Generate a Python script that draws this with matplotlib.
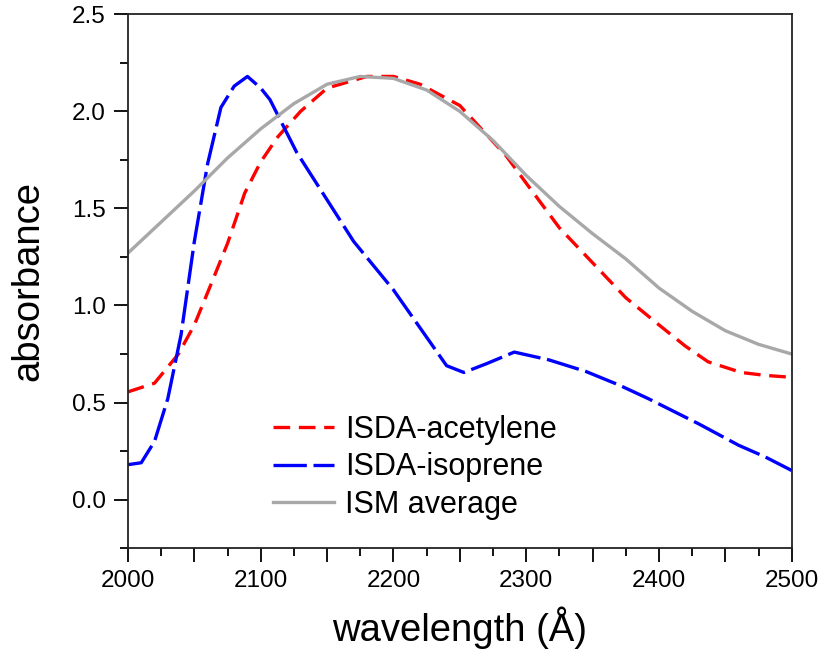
import numpy as np
import matplotlib.pyplot as plt
from matplotlib.ticker import MultipleLocator, FuncFormatter

plt.rcParams['font.family'] = ['Liberation Sans', 'DejaVu Sans']

# ISDA-acetylene
wl_acet = [2000, 2020, 2038, 2050, 2062, 2075, 2088, 2100, 2113, 2130, 2150,
           2180, 2200, 2220, 2250, 2285, 2300, 2325, 2350, 2375, 2400, 2420,
           2437, 2462, 2480, 2500]
abs_acet = [0.555, 0.60, 0.75, 0.90, 1.10, 1.32, 1.58, 1.74, 1.87, 2.00, 2.12,
            2.18, 2.18, 2.14, 2.03, 1.77, 1.63, 1.40, 1.22, 1.04, 0.90, 0.79,
            0.71, 0.655, 0.64, 0.63]

# ISDA-isoprene
wl_iso = [2000, 2010, 2020, 2030, 2040, 2050, 2060, 2070, 2080, 2090, 2100,
          2107, 2127, 2170, 2200, 2240, 2253, 2270, 2291, 2317, 2345, 2370,
          2392, 2430, 2460, 2480, 2500]
abs_iso = [0.18, 0.19, 0.30, 0.52, 0.85, 1.33, 1.73, 2.02, 2.13, 2.18, 2.12,
           2.06, 1.79, 1.33, 1.08, 0.69, 0.655, 0.70, 0.76, 0.72, 0.66, 0.59,
           0.52, 0.39, 0.28, 0.22, 0.15]

# ISM average
wl_ism = [2000, 2025, 2050, 2075, 2100, 2125, 2150, 2175, 2200, 2225, 2250,
          2275, 2300, 2325, 2350, 2375, 2400, 2425, 2450, 2475, 2500]
abs_ism = [1.27, 1.43, 1.59, 1.76, 1.91, 2.04, 2.14, 2.18, 2.17, 2.11, 2.00,
           1.85, 1.67, 1.51, 1.37, 1.24, 1.09, 0.97, 0.87, 0.80, 0.75]

fig = plt.figure(figsize=(8.23, 6.51), dpi=100)
ax = fig.add_axes([0.1555, 0.158, 0.8065, 0.82])

ax.plot(wl_acet, abs_acet, color='red', lw=2.4, dashes=(5, 2.6),
        label='ISDA-acetylene')
ax.plot(wl_iso, abs_iso, color='blue', lw=2.4, dashes=(10, 2),
        label='ISDA-isoprene')
ax.plot(wl_ism, abs_ism, color='#a8a8a8', lw=2.4, label='ISM average')

ax.set_xlim(2000, 2500)
ax.set_ylim(-0.25, 2.5)

ax.xaxis.set_major_locator(MultipleLocator(50))
ax.xaxis.set_minor_locator(MultipleLocator(25))
ax.xaxis.set_major_formatter(FuncFormatter(
    lambda v, p: f"{int(round(v))}" if round(v) % 100 == 0 else ""))
ax.yaxis.set_major_locator(MultipleLocator(0.5))
ax.yaxis.set_minor_locator(MultipleLocator(0.25))
ax.yaxis.set_major_formatter(FuncFormatter(
    lambda v, p: f"{v:.1f}" if v >= -0.01 else ""))

ax.tick_params(which='major', direction='out', length=10, width=1.3,
               labelsize=17.5, pad=6)
ax.tick_params(which='minor', direction='out', length=6, width=1.3)
for s in ax.spines.values():
    s.set_linewidth(1.3)
    s.set_color('#222222')

ax.set_xlabel('wavelength (Å)', fontsize=27.5, labelpad=10)
ax.set_ylabel('absorbance', fontsize=27.5, labelpad=18)

ax.legend(loc='lower left', bbox_to_anchor=(0.2, 0.03), frameon=False,
          fontsize=22, handlelength=2.0, handletextpad=0.35,
          labelspacing=0.25, borderaxespad=0)

fig.savefig('out.png', dpi=100)
